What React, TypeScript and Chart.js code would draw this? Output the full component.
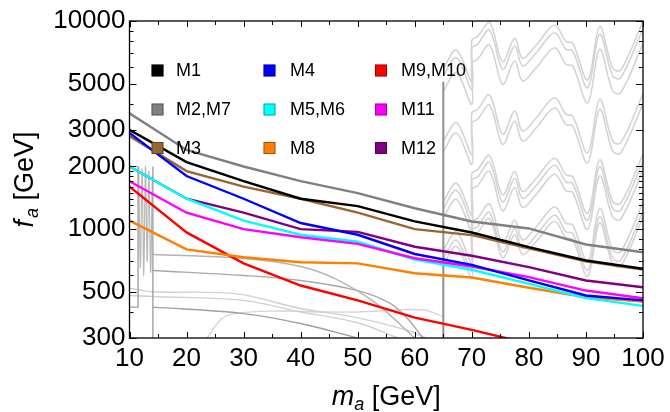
import React, { useEffect, useRef } from "react";
import { Chart, registerables } from "chart.js";

Chart.register(...registerables);

const FONT = "'Liberation Sans', Arial, sans-serif";

// ---- data (m_a in GeV, f_a in GeV) ----
const massPoints = [10, 20, 30, 40, 50, 60, 70, 80, 90, 100];
const M1 = [3000, 2100, 1700, 1400, 1290, 1090, 964, 819, 707, 645];
const M2_M7 = [3600, 2400, 2000, 1700, 1490, 1260, 1089, 1008, 844, 775];
const M3 = [2800, 1900, 1600, 1400, 1200, 1000, 936, 810, 700, 640];
const M4 = [2900, 1800, 1400, 1070, 940, 760, 674, 568, 480, 455];
const M5_M6 = [2000, 1400, 1100, 940, 870, 715, 638, 546, 466, 428];
const M8 = [1100, 800, 733, 694, 685, 614, 586, 523, 471, 449];
const M9_M10 = [1600, 965, 685, 536, 455, 376, 328, 282, 245, 212];
const M11 = [1700, 1200, 1000, 915, 850, 725, 662, 588, 507, 466];
const M12 = [2000, 1400, 1200, 1000, 970, 823, 745, 657, 567, 526];

const yMajorTicks = [300, 500, 1000, 2000, 3000, 5000, 10000];
const yMinorTicks = [400, 600, 700, 800, 900, 1100, 1200, 1300, 1400, 1500, 1600, 1700, 1800, 1900, 4000, 6000, 7000, 8000, 9000];
const xTicks = [10, 20, 30, 40, 50, 60, 70, 80, 90, 100];

// background exclusion contours (grey)
const wavyX = [65, 67.3, 70, 70, 71, 73.1, 75.4, 77.5, 78.9, 81.3, 84.5, 86.5, 87.7, 90.3, 92.4, 94.7, 96.1, 100];
const wavyTop = [5925, 7253, 5114, 8101, 8414, 9857, 6380, 8255, 6618, 7670, 9567, 7961, 7813, 5203, 9399, 5925, 5813, 10000];
const wavyBandScale = [1, 0.918, 0.778, 0.447, 0.4, 0.229, 0.212, 0.192, 0.134, 0.122, 0.114];

const cutX = [65, 65];
const cutY = [300, 5100];
const stepLeftX = [10, 11.5, 11.5];
const stepLeftY = [422, 422, 2000];
const stepRightX = [14.1, 14.1];
const stepRightY = [2000, 300];
const wiggleX = [11.6, 11.9, 12.2, 12.5, 12.8, 13.1, 13.4, 13.7, 14.0];
const wiggleY = [2000, 650, 1950, 600, 2000, 700, 1900, 620, 1800];
const c1X = [14.1, 30, 40, 46, 53, 60];
const c1Y = [756, 723, 662, 579, 445, 300];
const c2X = [14.1, 30, 40, 50, 55.7, 58.8, 61.4];
const c2Y = [633, 599, 567, 507, 440, 370, 300];
const c3X = [14.1, 30, 40, 50];
const c3Y = [422, 393, 352, 300];
const c4X = [10, 14.1, 28.5, 40, 50, 58.8, 62];
const c4Y = [520, 500, 490, 416, 375, 326, 300];
const c5X = [10, 14.1, 30, 40, 50, 57];
const c5Y = [480, 475, 455, 400, 355, 300];
const c6X = [23.2, 26.2, 28.5, 34.9, 44.3, 50, 61.4, 65];
const c6Y = [290, 372, 393, 404, 400, 400, 410, 380];

const series = [
  { label: "M1", values: M1, color: "#000000" },
  { label: "M4", values: M4, color: "#0000ff" },
  { label: "M11", values: M11, color: "#ff00ff" },
  { label: "M5,M6", values: M5_M6, color: "#00ffff" },
  { label: "M12", values: M12, color: "#800080" },
  { label: "M3", values: M3, color: "#996633" },
  { label: "M2,M7", values: M2_M7, color: "#808080" },
  { label: "M8", values: M8, color: "#ff8000" },
  { label: "M9,M10", values: M9_M10, color: "#ff0000" },
];

const legendGrid = [
  ["M1", "M2,M7", "M3"],
  ["M4", "M5,M6", "M8"],
  ["M9,M10", "M11", "M12"],
];

const pts = (xs: number[], ys: number[]) => xs.map((x, i) => ({ x, y: ys[i] }));

const framePlugin = {
  id: "frameTicksLegendTitles",
  afterDraw(chart: any) {
    const ctx = chart.ctx;
    const { left, right, top, bottom } = chart.chartArea;
    const xs = chart.scales.x;
    const ys = chart.scales.y;
    ctx.save();
    // frame
    ctx.strokeStyle = "#000";
    ctx.lineWidth = 1.3;
    ctx.strokeRect(left, top, right - left, bottom - top);
    ctx.lineWidth = 1;
    ctx.beginPath();
    for (let v = 10; v <= 100; v += 5) {
      const px = Math.round(xs.getPixelForValue(v)) + 0.5;
      const len = v % 10 === 0 ? 6 : 4;
      ctx.moveTo(px, bottom);
      ctx.lineTo(px, bottom - len);
      ctx.moveTo(px, top);
      ctx.lineTo(px, top + len);
    }
    const yTick = (v: number, len: number) => {
      const py = Math.round(ys.getPixelForValue(v)) + 0.5;
      ctx.moveTo(left, py);
      ctx.lineTo(left + len, py);
      ctx.moveTo(right, py);
      ctx.lineTo(right - len, py);
    };
    yMajorTicks.forEach((v) => yTick(v, 7));
    yMinorTicks.forEach((v) => yTick(v, 4));
    ctx.stroke();

    // legend
    const colX = [151.5, 263.5, 375];
    const rowY = [70.5, 109.5, 148];
    const textX = [176, 290, 401];
    ctx.font = `18px ${FONT}`;
    ctx.textBaseline = "middle";
    ctx.textAlign = "left";
    legendGrid.forEach((col, ci) => {
      col.forEach((lab, ri) => {
        const s = series.find((q) => q.label === lab)!;
        ctx.fillStyle = s.color;
        ctx.fillRect(colX[ci], rowY[ri] - 6, 12, 12);
        ctx.strokeStyle = "rgba(0,0,0,0.35)";
        ctx.lineWidth = 1;
        ctx.strokeRect(colX[ci] + 0.5, rowY[ri] - 5.5, 11, 11);
        ctx.fillStyle = "#000";
        ctx.fillText(lab, textX[ci], rowY[ri] + 1);
      });
    });

    // axis titles
    const big = `27px ${FONT}`;
    const bigI = `italic 27px ${FONT}`;
    const subI = `italic 18px ${FONT}`;
    ctx.textBaseline = "alphabetic";
    ctx.fillStyle = "#000";
    // x title
    ctx.font = bigI;
    const wm = ctx.measureText("m").width;
    ctx.font = subI;
    const wa = ctx.measureText("a").width;
    ctx.font = big;
    const wg = ctx.measureText(" [GeV]").width;
    const cx = (left + right) / 2;
    const x0 = cx - (wm + wa + wg) / 2;
    const base = 405;
    ctx.font = bigI;
    ctx.fillText("m", x0, base);
    ctx.font = subI;
    ctx.fillText("a", x0 + wm, base + 5);
    ctx.font = big;
    ctx.fillText(" [GeV]", x0 + wm + wa, base);

    // y title
    ctx.translate(33, (top + bottom) / 2);
    ctx.rotate(-Math.PI / 2);
    ctx.font = bigI;
    const wf = ctx.measureText("f").width;
    ctx.font = big;
    const wg2 = ctx.measureText(" [GeV]").width;
    const y0 = -(wf + wa + 2 + wg2) / 2;
    ctx.font = bigI;
    ctx.fillText("f", y0, 0);
    ctx.font = subI;
    ctx.fillText("a", y0 + wf + 2, 5);
    ctx.font = big;
    ctx.fillText(" [GeV]", y0 + wf + 2 + wa, 0);
    ctx.restore();
  },
};

export default function App() {
  const ref = useRef<HTMLCanvasElement | null>(null);
  useEffect(() => {
    document.body.style.margin = "0";
    const canvas = ref.current!;
    const datasets: any[] = [];
    series.forEach((s) => {
      datasets.push({
        label: s.label,
        data: pts(massPoints, s.values),
        borderColor: s.color,
        borderWidth: 2.4,
        pointRadius: 0,
        tension: 0,
        fill: false,
      });
    });
    const grey = (xsArr: number[], ysArr: number[], color: string, width = 1.4, tension = 0.35) => ({
      data: pts(xsArr, ysArr),
      borderColor: color,
      borderWidth: width,
      pointRadius: 0,
      tension,
      fill: false,
    });
    datasets.push(grey(cutX, cutY, "#8f8f8f", 2, 0));
    wavyBandScale.forEach((f) => {
      datasets.push(grey(wavyX, wavyTop.map((v) => v * f), "#d4d4d4", 1.6, 0.35));
    });
    datasets.push(grey(stepLeftX, stepLeftY, "#a0a0a0", 1.4, 0));
    datasets.push(grey(stepRightX, stepRightY, "#a0a0a0", 1.4, 0));
    datasets.push(grey(wiggleX, wiggleY, "#b8b8b8", 1.2, 0.3));
    datasets.push(grey(c1X, c1Y, "#b4b4b4"));
    datasets.push(grey(c2X, c2Y, "#a8a8a8"));
    datasets.push(grey(c3X, c3Y, "#a0a0a0"));
    datasets.push(grey(c4X, c4Y, "#d0d0d0"));
    datasets.push(grey(c5X, c5Y, "#d0d0d0"));
    datasets.push(grey(c6X, c6Y, "#d6d6d6"));

    const chart = new Chart(canvas, {
      type: "line",
      data: { datasets },
      options: {
        animation: false,
        responsive: false,
        devicePixelRatio: 1,
        layout: { padding: { top: 21, right: 27, left: 0, bottom: 0 } },
        plugins: { legend: { display: false }, tooltip: { enabled: false } },
        scales: {
          x: {
            type: "linear",
            min: 10,
            max: 100,
            afterBuildTicks: (s: any) => {
              s.ticks = xTicks.map((v) => ({ value: v }));
            },
            afterFit: (s: any) => {
              s.height = 74;
            },
            ticks: { font: { size: 26, family: FONT }, color: "#000", padding: 5, maxRotation: 0, autoSkip: false },
            grid: { display: false, drawTicks: false },
            border: { display: false },
          },
          y: {
            type: "logarithmic",
            min: 300,
            max: 10000,
            afterBuildTicks: (s: any) => {
              s.ticks = yMajorTicks.map((v) => ({ value: v }));
            },
            afterFit: (s: any) => {
              s.width = 129.5;
            },
            ticks: {
              font: { size: 26, family: FONT },
              color: "#000",
              padding: 4,
              autoSkip: false,
              callback: (v: any) => String(v),
            },
            grid: { display: false, drawTicks: false },
            border: { display: false },
          },
        },
      },
      plugins: [framePlugin],
    } as any);
    return () => chart.destroy();
  }, []);
  return <canvas ref={ref} width={670} height={412} style={{ display: "block" }} />;
}
